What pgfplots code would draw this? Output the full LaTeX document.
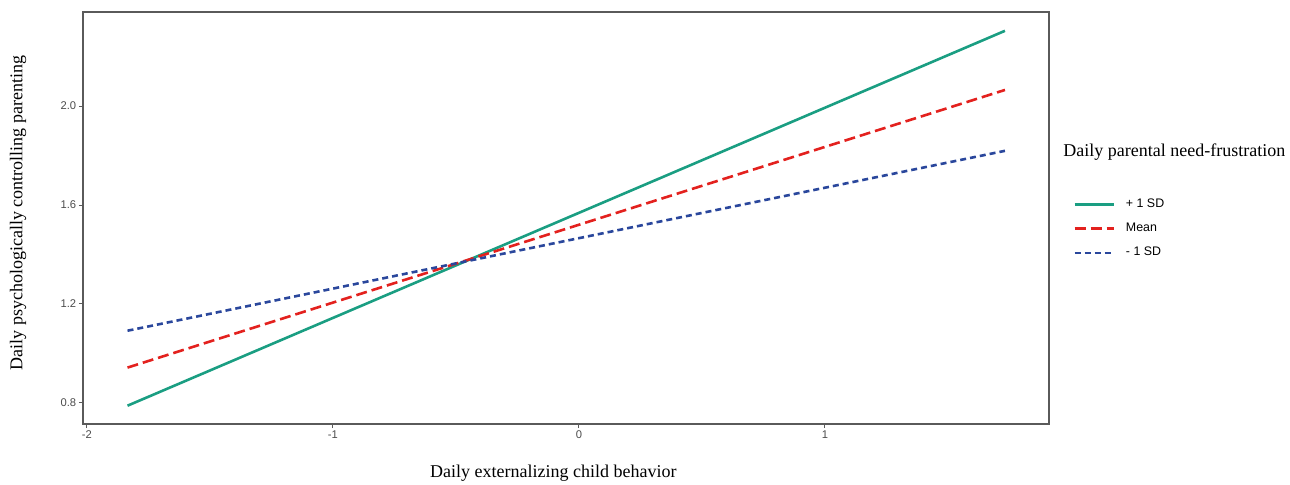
\documentclass[border=0pt]{standalone}
\usepackage{fontspec}
\setmainfont{Liberation Serif}
\setsansfont{Liberation Sans}
\usepackage{pgfplots}
\pgfplotsset{compat=1.18}
\usetikzlibrary{calc}
\definecolor{sdhigh}{HTML}{1A9E82}
\definecolor{sdmean}{HTML}{E3211E}
\definecolor{sdlow}{HTML}{2A479C}
\definecolor{frame}{HTML}{5A5A5A}

\begin{document}
\begin{tikzpicture}
\begin{axis}[
  scale only axis,
  width=483pt, height=206pt,
  xmin=-2.016, xmax=1.911,
  ymin=0.715, ymax=2.380,
  clip=false,
  xtick={-2,-1,0,1},
  ytick={0.8,1.2,1.6,2.0},
  yticklabel style={/pgf/number format/.cd, fixed, fixed zerofill, precision=1},
  tick label style={font=\sffamily\fontsize{5.6pt}{6pt}\selectfont, text=black!70, inner sep=1.2pt},
  /pgf/number format/assume math mode=true,
  tick align=outside,
  major tick length=2pt,
  tick style={frame, line width=0.5pt},
  axis line style={frame, line width=0.7pt},
  xtick pos=bottom, ytick pos=left,
  xlabel={Daily externalizing child behavior},
  ylabel={Daily psychologically controlling parenting},
  label style={font=\fontsize{9pt}{10pt}\selectfont},
  xlabel style={at={(axis description cs:0.487,-0.119)}, anchor=center},
  ylabel style={at={(axis description cs:-0.0673,0.512)}, anchor=center},
  legend cell align=left,
  legend image code/.code={\draw[#1] (0pt,0pt) -- (19.5pt,0pt);},
  legend style={draw=none, fill=none, at={(axis description cs:1.0248,0.474)}, anchor=west,
    inner sep=0pt, row sep=6.3pt, column sep=5.5pt,
    nodes={inner sep=0pt},
    font=\sffamily\fontsize{6.2pt}{7pt}\selectfont},
]
\addplot[sdhigh, line width=1.3pt] coordinates {(-1.835,0.789) (1.732,2.304)};
\addplot[sdmean, line width=1.3pt, dash pattern=on 5.5pt off 2.5pt] coordinates {(-1.835,0.943) (1.732,2.065)};
\addplot[sdlow, line width=1.3pt, dash pattern=on 3pt off 2pt] coordinates {(-1.835,1.092) (1.732,1.819)};
\legend{+ 1 SD, Mean, - 1 SD}
\node[anchor=west, inner sep=0pt, font=\fontsize{9pt}{10pt}\selectfont] at (axis description cs:1.0145,0.660) {Daily parental need-frustration};
\end{axis}
\pgfresetboundingbox
\path[use as bounding box] ($(current axis.south west)+(-41.5pt,-30pt)$) rectangle ++(645pt,242pt);
\end{tikzpicture}
\end{document}
